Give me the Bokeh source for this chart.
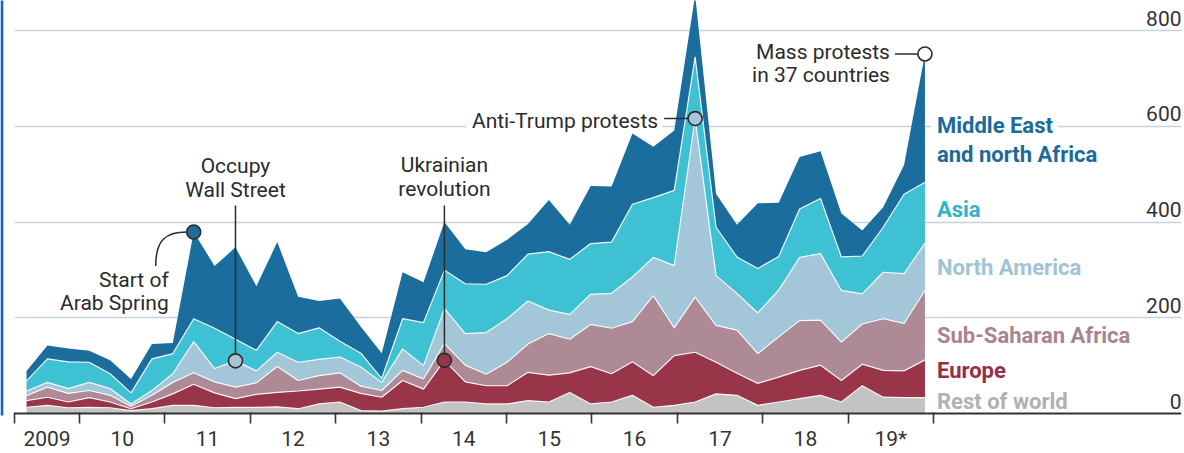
import numpy as np
from bokeh.plotting import figure
from bokeh.models import ColumnDataSource, FixedTicker, Range1d, Label, Grid
from bokeh.core.properties import value
from bokeh.embed import file_html
from bokeh.resources import INLINE

# ---------------- data (number of protests per quarter, by region) ----------------
quarters = [f"{y} Q{q}" for y in range(2009, 2020) for q in range(1, 5)]
x_first, x_last = 2009.38, 2019.90   # plotted span of the 44 quarterly points

rest_of_world = [13, 17, 12, 13, 12, 6, 10, 17, 17, 12, 13, 13, 14, 10, 20, 24, 6, 5, 10, 13, 24, 24,
                 20, 20, 27, 24, 44, 20, 24, 38, 13, 17, 24, 41, 38, 17, 24, 31, 38, 24, 58, 34, 33, 33]
europe = [14, 17, 12, 20, 12, 4, 14, 24, 44, 31, 18, 27, 30, 37, 31, 31, 36, 29, 59, 38, 87, 42,
          38, 38, 59, 56, 41, 78, 59, 70, 66, 104, 104, 66, 46, 46, 52, 59, 63, 45, 45, 56, 56, 79]
sub_saharan_africa = [10, 21, 18, 15, 14, 5, 14, 24, 24, 23, 24, 24, 54, 22, 28, 30, 15, 14, 21, 21, 35, 35,
                      24, 49, 59, 87, 70, 88, 95, 84, 167, 58, 115, 77, 90, 62, 84, 104, 94, 80, 84, 108, 99, 145]
north_america = [10, 10, 10, 17, 14, 5, 10, 18, 65, 28, 55, 25, 30, 38, 34, 33, 40, 17, 45, 28, 73, 66,
                 87, 91, 90, 49, 52, 63, 73, 93, 80, 130, 373, 104, 77, 85, 98, 132, 139, 108, 63, 97, 104, 99]
asia = [21, 49, 56, 42, 31, 23, 66, 42, 48, 84, 45, 43, 64, 60, 66, 33, 29, 8, 63, 90, 80, 104,
        101, 90, 98, 122, 115, 106, 107, 152, 125, 157, 129, 101, 76, 93, 70, 101, 115, 70, 79, 94, 166, 127]
middle_east_north_africa = [21, 28, 28, 24, 28, 29, 31, 22, 181, 130, 192, 134, 166, 77, 56, 89, 55, 53, 97, 84, 101, 72,
                            67, 75, 63, 108, 72, 120, 116, 148, 106, 125, 129, 70, 67, 136, 112, 109, 99, 91, 53, 42, 61, 268]

series_keys = ["rest", "europe", "ssa", "na", "asia", "mena"]
series_values = [rest_of_world, europe, sub_saharan_africa, north_america, asia, middle_east_north_africa]
series_labels = [["Rest of world"], ["Europe"], ["Sub-Saharan Africa"], ["North America"], ["Asia"],
                 ["Middle East", "and north Africa"]]
area_colors = ["#c3c3c3", "#993548", "#ad8a96", "#a3c7d9", "#3ec1d3", "#1b6d9d"]
label_colors = ["#b1b1b1", "#9a2d45", "#a8848f", "#a0c3d6", "#2fb5c8", "#1b6a9a"]
series_label_y = [[7.7], [72.5], [146.8], [288.3], [410.0], [584.2, 524.9]]

y_ticks = [0, 200, 400, 600, 800]
y_tick_labels = ["0", "200", "400", "600", "800"]
year_ticks = [2009.24] + list(range(2010, 2021))
year_labels = ["2009", "10", "11", "12", "13", "14", "15", "16", "17", "18", "19*"]

# annotated quarters
ev_arab, ev_ows, ev_ukr, ev_trump, ev_mass = 8, 10, 20, 32, 43

# ---------------- geometry ----------------
PX_PER_YEAR = 85.4
PX_PER_UNIT = 0.47875
W, H = 1184, 453
FRAME_W, FRAME_BOTTOM = 1181, 415       # frame spans page x 0..1181, y 0..415
ZERO_PX = 413                            # page y of value 0
X_AT_0 = 2010 - 79 / PX_PER_YEAR         # year at page x = 0
TXT_UP = 8                               # text placement correction, px


def dx(px):
    return px / PX_PER_YEAR


def dy(px):
    return px / PX_PER_UNIT


x = np.linspace(x_first, x_last, len(quarters))
vals = np.array(series_values, dtype=float)
cum = np.cumsum(vals, axis=0)
total = cum[-1]

x_end = X_AT_0 + dx(FRAME_W)
p = figure(width=W, height=H, output_backend="svg", toolbar_location=None,
           x_range=Range1d(X_AT_0, x_end),
           y_range=Range1d(-dy(FRAME_BOTTOM - ZERO_PX), dy(ZERO_PX)),
           y_axis_location=None, min_border_left=0, min_border_right=W - FRAME_W,
           min_border_top=0, min_border_bottom=H - FRAME_BOTTOM, outline_line_color=None,
           background_fill_color="white", border_fill_color="white")
p.xgrid.visible = False

p.add_layout(Grid(dimension=1, ticker=FixedTicker(ticks=y_ticks[1:]),
                  grid_line_color="#c7d2da", grid_line_width=1.6))

FONT = "Roboto"
INK = "#333333"

# x axis: minor ticks at year boundaries, labels centred between them
mids = [round((a + b) / 2, 3) for a, b in zip(year_ticks[:-1], year_ticks[1:])]
ax = p.xaxis[0]
ax.ticker = FixedTicker(ticks=mids, minor_ticks=year_ticks)
ax.major_label_overrides = {m: lab for m, lab in zip(mids, year_labels)}
ax.major_tick_line_color = None
ax.major_tick_in = 0
ax.major_tick_out = 8
ax.minor_tick_in = 3
ax.minor_tick_out = 8
ax.minor_tick_line_color = INK
ax.minor_tick_line_width = 1.6
ax.axis_line_color = None
ax.major_label_standoff = 3
ax.major_label_text_font = FONT
ax.major_label_text_font_size = "21px"
ax.major_label_text_color = INK

# left margin: white under the grid start, blue page edge
p.quad(left=[X_AT_0], right=[X_AT_0 + dx(14.5)], bottom=[-dy(5)], top=[dy(ZERO_PX + 5)],
       fill_color="white", line_color=None)
p.quad(left=[X_AT_0], right=[X_AT_0 + dx(2.8)], bottom=[-dy(5)], top=[dy(ZERO_PX + 5)],
       fill_color="#0b63c6", line_color=None)

# stacked areas
src = ColumnDataSource(dict(x=x, **{k: v for k, v in zip(series_keys, series_values)}))
p.varea_stack(stackers=series_keys, x="x", color=area_colors, source=src)
for row in cum[:-1]:
    p.line(x, row, line_color="white", line_width=1.2, line_alpha=0.9)

# zero line
p.segment(x0=[year_ticks[0]], y0=[0], x1=[x_end], y1=[0], line_color=INK, line_width=2)

# y tick labels (inside, above gridlines, right aligned)
ysrc = ColumnDataSource(dict(x=[x_end] * len(y_ticks),
                             y=[t + dy(4 + TXT_UP + 0.5) for t in y_ticks], text=y_tick_labels))
p.text(x="x", y="y", text="text", source=ysrc, text_align="right", text_baseline="alphabetic",
       text_font=value(FONT), text_font_size="21px", text_color=INK)

# gaps in the 600 gridline behind two labels
xt, yt = x[ev_trump], cum[3][ev_trump]
p.segment(x0=[xt - dx(229), x_last + dx(6)], y0=[600, 600],
          x1=[xt - dx(33), x_last + dx(133)], y1=[600, 600],
          line_color="white", line_width=4)

# series labels
for lines, ys, col in zip(series_labels, series_label_y, label_colors):
    for t, yy in zip(lines, ys):
        p.add_layout(Label(x=x_last + dx(12), y=yy + dy(TXT_UP), text=t, text_align="left",
                           text_baseline="alphabetic", text_font=FONT, text_font_size="22px",
                           text_font_style="bold", text_color=col))

ANN = "#2b2b2b"


def ann(xx, yy, t, align):
    p.add_layout(Label(x=xx, y=yy + dy(TXT_UP - 0.5), text=t, text_align=align,
                       text_baseline="alphabetic", text_font=FONT, text_font_size="21px",
                       text_color=ANN))


R = 7  # marker radius px
# Arab Spring
xa, ya = x[ev_arab], total[ev_arab]
ann(xa - dx(25), ya - dy(55), "Start of", "right")
ann(xa - dx(25), ya - dy(78), "Arab Spring", "right")
p.bezier(x0=[xa - dx(38)], y0=[ya - dy(34)], x1=[xa - dx(R)], y1=[ya],
         cx0=[xa - dx(38)], cy0=[ya - dy(8)], cx1=[xa - dx(28)], cy1=[ya],
         line_color=ANN, line_width=1.5)

# Occupy Wall Street
xo, yo = x[ev_ows], cum[3][ev_ows]
ann(xo, 501.3, "Occupy", "center")
ann(xo, 451.8, "Wall Street", "center")
p.segment(x0=[xo], y0=[434.5], x1=[xo], y1=[yo + dy(R)], line_color=ANN, line_width=1.5)

# Ukrainian revolution
xu, yu = x[ev_ukr], cum[1][ev_ukr]
ann(xu, 504.0, "Ukrainian", "center")
ann(xu, 453.3, "revolution", "center")
p.segment(x0=[xu], y0=[434.5], x1=[xu], y1=[yu + dy(R)], line_color=ANN, line_width=1.5)

# Anti-Trump protests
ann(xt - dx(37), yt - dy(10), "Anti-Trump protests", "right")
p.segment(x0=[xt - dx(31)], y0=[yt], x1=[xt - dx(R)], y1=[yt], line_color=ANN, line_width=1.5)

# Mass protests
xm, ym = x[ev_mass], total[ev_mass]
ann(xm - dx(35), ym - dy(6), "Mass protests", "right")
ann(xm - dx(35), ym - dy(29), "in 37 countries", "right")
p.segment(x0=[xm - dx(30)], y0=[ym], x1=[xm - dx(R)], y1=[ym], line_color=ANN, line_width=1.5)

# event markers
p.scatter(x=[xa, xo, xu, xt, xm], y=[ya, yo, yu, yt, ym], size=2 * R,
          fill_color=[area_colors[5], area_colors[3], area_colors[1], area_colors[3], "white"],
          line_color=ANN, line_width=1.6)

open("out.html", "w").write(file_html(p, INLINE))
